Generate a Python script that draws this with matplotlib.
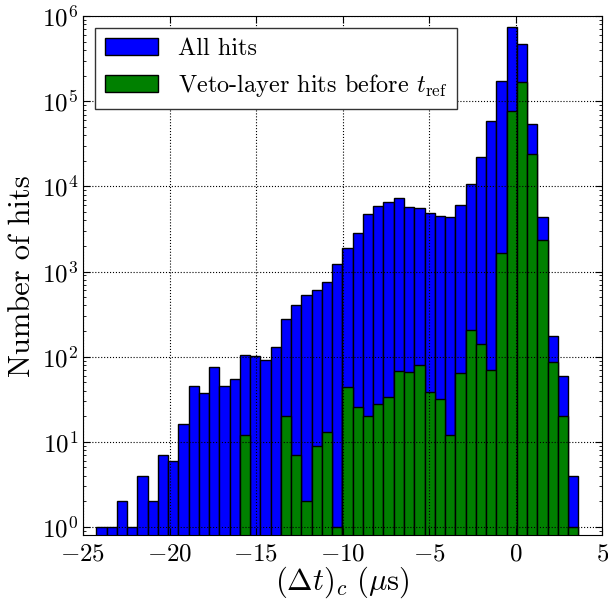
#Histograma de tiempos de hits
#Todos los hits vs hits en la capa veto antes de t_ref

import matplotlib
matplotlib.use("Agg")
import matplotlib.pyplot as plt
import numpy as np

#Datos

bin_lo = -24.23
bin_hi = 3.62
n_bins = 47

all_hits = [1, 1, 2, 1, 4, 2, 7, 6, 16, 45, 37, 75, 45, 55, 104, 102, 92, 131,
            279, 402, 525, 612, 760, 1225, 1900, 2860, 4730, 5940, 6570, 7270,
            5780, 5570, 4860, 4520, 4320, 6000, 10600, 22300, 58200, 172000,
            743000, 471000, 53600, 4320, 175, 60, 4]

veto_hits = [0, 0, 0, 0, 0, 0, 0, 0, 0, 0, 0, 0, 0, 0, 12, 0, 0, 0,
             20, 7, 2, 9, 13, 1, 44, 26, 20, 28, 34, 68,
             66, 79, 39, 32, 12, 65, 208, 141, 69, 1660,
             76600, 168000, 24000, 2320, 87, 20, 1]

labels = ["All hits", r"Veto-layer hits before $t_{\rm ref}$"]

#Estilo

plt.rcParams["font.family"] = "serif"
plt.rcParams["font.serif"] = ["cmr10", "DejaVu Serif"]
plt.rcParams["mathtext.fontset"] = "cm"
plt.rcParams["axes.formatter.use_mathtext"] = True
plt.rcParams["xtick.direction"] = "in"
plt.rcParams["ytick.direction"] = "in"
plt.rcParams["xtick.top"] = True
plt.rcParams["ytick.right"] = True

edges = np.linspace(bin_lo, bin_hi, n_bins + 1)
left = edges[:-1]
width = np.diff(edges)
all_hits = np.array(all_hits, dtype=float)
veto_hits = np.array(veto_hits, dtype=float)
m = veto_hits > 0

fig = plt.figure(figsize=(6.08, 6.0), dpi=100)
ax = fig.add_axes([0.1365, 0.108, 0.854, 0.865])

ax.bar(left, all_hits, width=width, align="edge", color="#0000ff",
       edgecolor="k", linewidth=1.0, log=True, label=labels[0])
ax.bar(left[m], veto_hits[m], width=width[m], align="edge", color="#008000",
       edgecolor="k", linewidth=1.0, log=True, label=labels[1])

ax.set_xlim(-25, 5)
ax.set_ylim(0.8, 1e6)
ax.set_xticks([-25, -20, -15, -10, -5, 0, 5])
ax.grid(True, which="major", color="k", linestyle=":", linewidth=0.8)
ax.set_axisbelow(False)
ax.tick_params(axis="both", which="major", labelsize=18, length=5)
ax.tick_params(axis="both", which="minor", length=2.5)
ax.tick_params(axis="x", pad=6)

ax.set_xlabel(r"$(\Delta t)_c\ (\mu\mathrm{s})$", fontsize=22, labelpad=-1)
ax.set_ylabel("Number of hits", fontsize=22, labelpad=4)

#Leyenda

leg = ax.legend(loc="upper left", fontsize=17.5, fancybox=False, framealpha=1,
                handlelength=2.2, borderaxespad=0.5)
leg.get_frame().set_edgecolor("0.2")

fig.savefig("out.png", dpi=100)
